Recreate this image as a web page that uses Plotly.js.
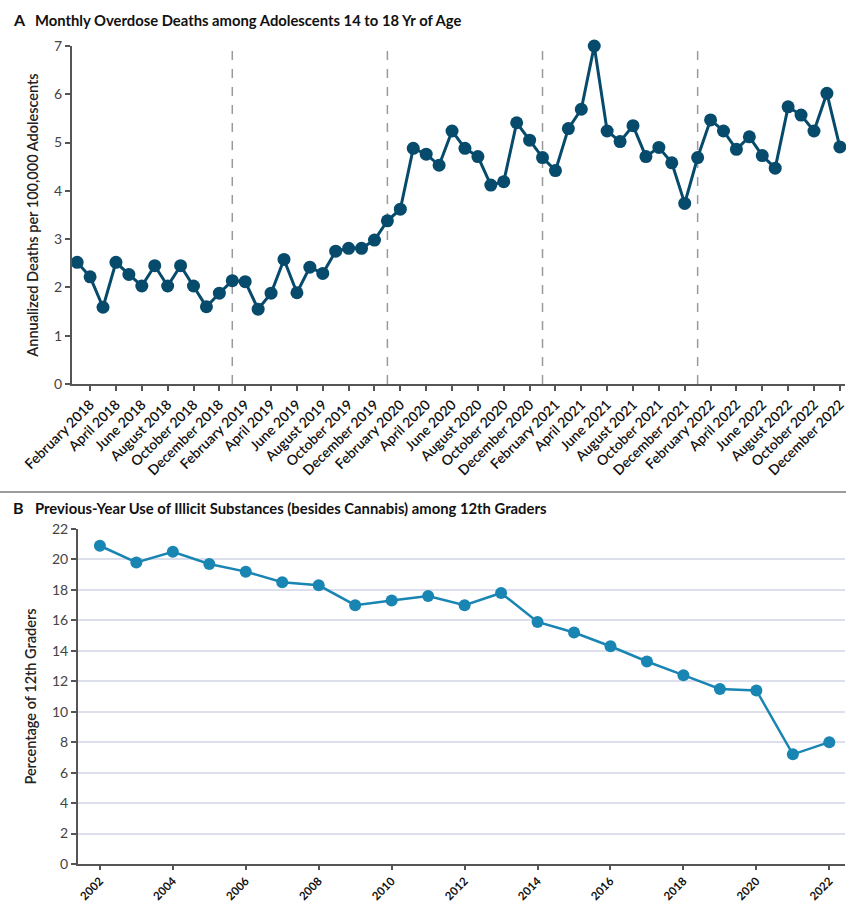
<!DOCTYPE html>
<html>
<head>
<meta charset="utf-8">
<script src="https://cdn.plot.ly/plotly-3.0.1.min.js"></script>
<style>html,body{margin:0;padding:0;background:#fff;}#chart{width:846px;height:905px;}</style>
</head>
<body>
<div id="chart"></div>
<script>
// ---------- Panel A data ----------
const monthNames = ["January","February","March","April","May","June","July","August","September","October","November","December"];
const yearsA = [2018, 2019, 2020, 2021, 2022];
const deathRates = [
  2.52, 2.22, 1.59, 2.52, 2.27, 2.03, 2.45, 2.03, 2.45, 2.03, 1.60, 1.88,
  2.14, 2.12, 1.55, 1.88, 2.58, 1.89, 2.42, 2.29, 2.75, 2.81, 2.81, 2.98,
  3.38, 3.62, 4.88, 4.76, 4.53, 5.24, 4.88, 4.71, 4.12, 4.19, 5.41, 5.05,
  4.69, 4.42, 5.29, 5.69, 7.00, 5.24, 5.02, 5.35, 4.71, 4.90, 4.58, 3.74,
  4.69, 5.47, 5.24, 4.86, 5.12, 4.73, 4.47, 5.74, 5.57, 5.24, 6.02, 4.91
];
const yearMarkers = ["January 2019", "January 2020", "January 2021", "January 2022"];

// ---------- Panel B data ----------
const surveyYears = [2002,2003,2004,2005,2006,2007,2008,2009,2010,2011,2012,2013,2014,2015,2016,2017,2018,2019,2020,2021,2022];
const illicitUse = [20.9,19.8,20.5,19.7,19.2,18.5,18.3,17.0,17.3,17.6,17.0,17.8,15.9,15.2,14.3,13.3,12.4,11.5,11.4,7.2,8.0];
const yearTicksB = [2002,2004,2006,2008,2010,2012,2014,2016,2018,2020,2022];

const titleA = "Monthly Overdose Deaths among Adolescents 14 to 18 Yr of Age";
const titleB = "Previous-Year Use of Illicit Substances (besides Cannabis) among 12th Graders";
const yTitleA = "Annualized Deaths per 100,000 Adolescents";
const yTitleB = "Percentage of 12th Graders";

// month category labels
const months = [];
yearsA.forEach(y => monthNames.forEach(m => months.push(m + " " + y)));
const monthTicks = months.filter((m, i) => i % 2 === 1);

const W = 846, H = 905;
const px = v => v / W;
const py = v => 1 - v / H;
const FONT = "Lato, 'Open Sans', sans-serif";

const traces = [
  {
    x: months, y: deathRates, xaxis: "x", yaxis: "y",
    type: "scatter", mode: "lines+markers", cliponaxis: false,
    line: {color: "#074b6c", width: 3},
    marker: {color: "#074b6c", size: 13},
    hoverinfo: "x+y"
  },
  {
    x: surveyYears, y: illicitUse, xaxis: "x2", yaxis: "y2",
    type: "scatter", mode: "lines+markers", cliponaxis: false,
    line: {color: "#1985b3", width: 2.5},
    marker: {color: "#1985b3", size: 12},
    hoverinfo: "x+y"
  }
];

const shapes = yearMarkers.map(m => ({
  type: "line", xref: "x", yref: "y domain",
  x0: months.indexOf(m), x1: months.indexOf(m), y0: 0, y1: 1.01,
  line: {color: "#9a9a9a", width: 1.5, dash: "dash"}, layer: "below"
}));
shapes.push({
  type: "line", xref: "paper", yref: "paper",
  x0: 0, x1: 1, y0: py(492), y1: py(492),
  line: {color: "#9c9c9c", width: 2}
});

const layout = {
  width: W, height: H,
  margin: {l: 0, r: 0, t: 0, b: 0},
  paper_bgcolor: "#fff", plot_bgcolor: "#fff",
  showlegend: false,
  font: {family: FONT, color: "#222"},
  xaxis: {
    domain: [px(72), px(845)], anchor: "y",
    type: "category", range: [-0.4, 59.4],
    tickmode: "array", tickvals: monthTicks, ticktext: monthTicks,
    tickangle: -45, tickfont: {size: 14, color: "#111", family: FONT, weight: 600},
    ticks: "outside", ticklen: 5, tickcolor: "#555", tickwidth: 1.5,
    showline: true, linecolor: "#555", linewidth: 2,
    showgrid: false, zeroline: false, fixedrange: true
  },
  yaxis: {
    domain: [py(384), py(46)], anchor: "x",
    range: [0, 7], tickvals: [0,1,2,3,4,5,6,7],
    tickfont: {size: 14, color: "#444", family: FONT},
    ticks: "outside", ticklen: 5, tickcolor: "#555", tickwidth: 1.5,
    showline: true, linecolor: "#555", linewidth: 2,
    showgrid: false, zeroline: false,
    title: {text: yTitleA, font: {size: 14.5, color: "#222", family: FONT, weight: 600}, standoff: 12}
  },
  xaxis2: {
    domain: [px(78), px(845)], anchor: "y2",
    range: [2001.4, 2022.43],
    tickmode: "array", tickvals: yearTicksB, ticktext: yearTicksB.map(String),
    tickangle: -45, tickfont: {size: 11.5, color: "#111", family: FONT, weight: 700},
    ticks: "outside", ticklen: 4, tickcolor: "#555", tickwidth: 1.5,
    showline: true, linecolor: "#555", linewidth: 2,
    showgrid: false, zeroline: false
  },
  yaxis2: {
    domain: [py(864), py(529)], anchor: "x2",
    range: [0, 22], tickvals: [0,2,4,6,8,10,12,14,16,18,20,22],
    tickfont: {size: 14, color: "#444", family: FONT},
    ticks: "outside", ticklen: 5, tickcolor: "#555", tickwidth: 1.5,
    showline: true, linecolor: "#555", linewidth: 2,
    showgrid: true, gridcolor: "#dde0ec", gridwidth: 1.5, zeroline: false,
    title: {text: yTitleB, font: {size: 14.5, color: "#222", family: FONT, weight: 600}, standoff: 12}
  },
  shapes: shapes,
  annotations: [
    {text: "<b>A</b>", xref: "paper", yref: "paper", x: px(11), y: py(20), xanchor: "left", yanchor: "middle", showarrow: false, font: {size: 16, color: "#111", family: FONT}},
    {text: "<b>" + titleA + "</b>", xref: "paper", yref: "paper", x: px(33), y: py(20), xanchor: "left", yanchor: "middle", showarrow: false, font: {size: 14.8, color: "#111", family: FONT}},
    {text: "<b>B</b>", xref: "paper", yref: "paper", x: px(11), y: py(508), xanchor: "left", yanchor: "middle", showarrow: false, font: {size: 16, color: "#111", family: FONT}},
    {text: "<b>" + titleB + "</b>", xref: "paper", yref: "paper", x: px(33), y: py(508), xanchor: "left", yanchor: "middle", showarrow: false, font: {size: 14.8, color: "#111", family: FONT}}
  ]
};

Plotly.newPlot("chart", traces, layout, {displayModeBar: false, responsive: false});
</script>
</body>
</html>
